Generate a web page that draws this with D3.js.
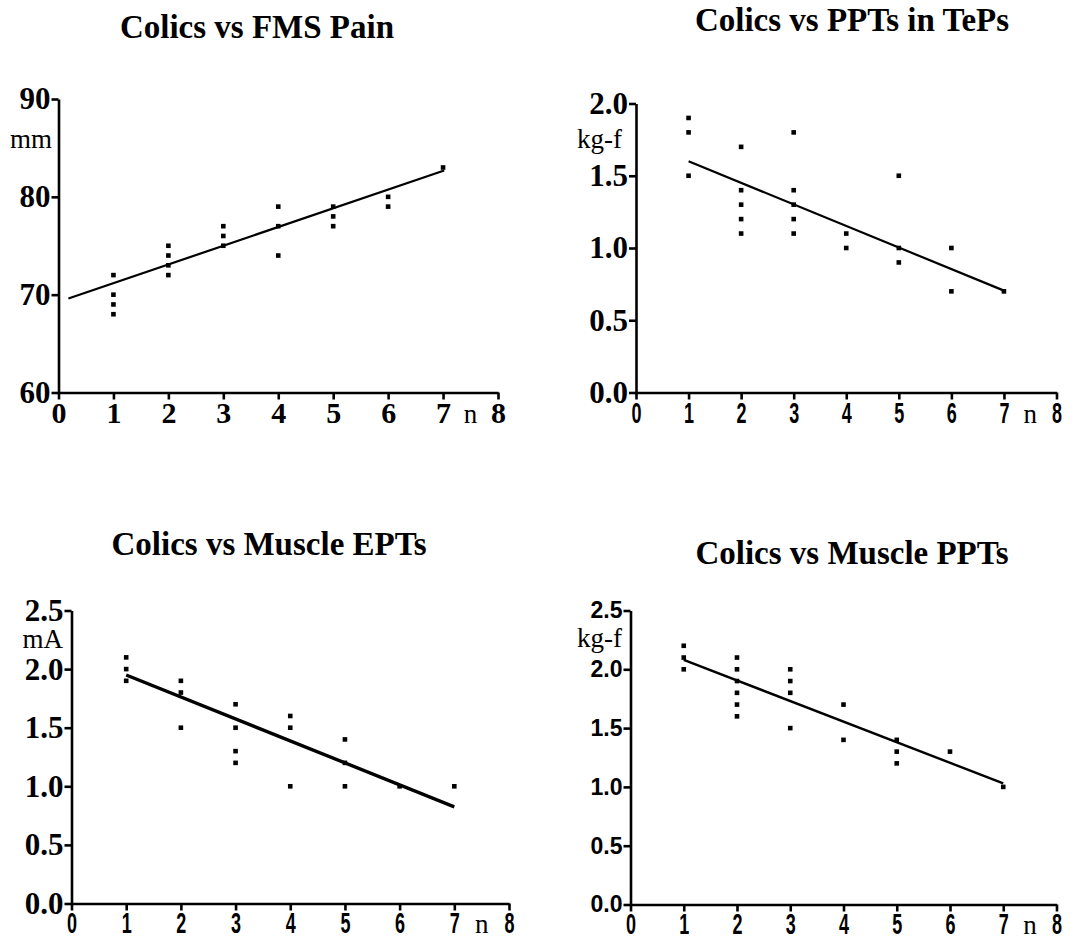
<!DOCTYPE html>
<head>
  <meta charset="utf-8">
  <style>
    body { margin: 0; background: #fff; }
    .title { font-family: "Liberation Serif", "Times New Roman", serif; font-weight: bold; font-size: 33px; }
    .unit { font-family: "Liberation Serif", "Times New Roman", serif; font-size: 27px; }
    .axis path, .axis line { stroke: #000; stroke-width: 2.6px; }
  </style>
  <script src="https://d3js.org/d3.v7.min.js" charset="utf-8"></script>
</head>
<body>
  <script>
    // x ticks shared by all four plots
    var nTicks = [0, 1, 2, 3, 4, 5, 6, 7, 8];

    // Colics vs FMS Pain
    var fmsX = [1, 1, 1, 1, 2, 2, 2, 2, 3, 3, 3, 4, 4, 4, 5, 5, 5, 6, 6, 7];
    var fmsY = [72, 70, 69, 68, 75, 74, 73, 72, 77, 76, 75, 79, 77, 74, 79, 78, 77, 80, 79, 83];
    var fmsFitX = [0.18, 7.02];
    var fmsFitY = [69.6, 82.7];
    var fmsTicks = [60, 70, 80, 90];

    // Colics vs PPTs in TePs
    var tepX = [1, 1, 1, 2, 2, 2, 2, 2, 3, 3, 3, 3, 3, 4, 4, 5, 5, 5, 6, 6, 7];
    var tepY = [1.9, 1.8, 1.5, 1.7, 1.4, 1.3, 1.2, 1.1, 1.8, 1.4, 1.3, 1.2, 1.1, 1.1, 1.0, 1.5, 1.0, 0.9, 1.0, 0.7, 0.7];
    var tepFitX = [1, 7];
    var tepFitY = [1.6, 0.705];
    var tepTicks = [0, 0.5, 1.0, 1.5, 2.0];

    // Colics vs Muscle EPTs
    var eptX = [1, 1, 1, 2, 2, 2, 3, 3, 3, 3, 4, 4, 4, 5, 5, 5, 6, 7];
    var eptY = [2.1, 2.0, 1.9, 1.9, 1.8, 1.5, 1.7, 1.5, 1.3, 1.2, 1.6, 1.5, 1.0, 1.4, 1.2, 1.0, 1.0, 1.0];
    var eptFitX = [1, 7];
    var eptFitY = [1.95, 0.825];
    var eptTicks = [0, 0.5, 1.0, 1.5, 2.0, 2.5];

    // Colics vs Muscle PPTs
    var mppX = [1, 1, 1, 2, 2, 2, 2, 2, 2, 3, 3, 3, 3, 4, 4, 5, 5, 5, 6, 7];
    var mppY = [2.2, 2.1, 2.0, 2.1, 2.0, 1.9, 1.8, 1.7, 1.6, 2.0, 1.9, 1.8, 1.5, 1.7, 1.4, 1.4, 1.3, 1.2, 1.3, 1.0];
    var mppFitX = [1, 7];
    var mppFitY = [2.08, 1.03];
    var mppTicks = [0, 0.5, 1.0, 1.5, 2.0, 2.5];

    var serifB = '"Liberation Serif", "Times New Roman", serif';
    var sansB = '"Liberation Sans", Arial, sans-serif';

    var svg = d3.select("body")
                .append("svg")
                .attr("width", 1079)
                .attr("height", 939);

    function drawPlot(o) {
      var x = d3.scaleLinear().domain([0, 8]).range([o.left, o.right]);
      var y = d3.scaleLinear().domain(o.yDomain).range([o.bottom, o.top]);
      var g = svg.append("g");

      g.append("text")
       .attr("class", "title")
       .attr("x", o.titleX)
       .attr("y", o.titleY)
       .attr("text-anchor", "middle")
       .text(o.title);

      var yAxis = g.append("g")
                   .attr("class", "axis")
                   .attr("transform", "translate(" + o.left + ",0)")
                   .call(d3.axisLeft(y).tickValues(o.yTicks).tickSize(7).tickSizeOuter(0)
                           .tickFormat(o.yFormat));
      yAxis.selectAll("text")
           .attr("x", -8)
           .attr("font-family", o.yFont)
           .attr("font-weight", "bold")
           .attr("font-size", o.yFontSize + "px")
           .attr("fill", "#000");

      var xAxis = g.append("g")
                   .attr("class", "axis")
                   .attr("transform", "translate(0," + o.bottom + ")")
                   .call(d3.axisBottom(x).tickValues(nTicks).tickSize(7).tickSizeOuter(0)
                           .tickFormat(d3.format("d")));
      // sans labels in the source are narrow, so squash them sideways
      xAxis.selectAll("text")
           .attr("y", 0)
           .attr("dy", 0)
           .attr("font-family", o.xFont)
           .attr("font-weight", "bold")
           .attr("font-size", o.xFontSize + "px")
           .attr("fill", "#000")
           .attr("transform", "translate(0," + o.xLabelBase + ") scale(" + o.xSquash + ",1)");

      g.append("text")
       .attr("class", "unit")
       .attr("x", o.unitX)
       .attr("y", o.unitY)
       .attr("text-anchor", "end")
       .attr("font-size", o.unitSize + "px")
       .text(o.unit);

      g.append("text")
       .attr("class", "unit")
       .attr("x", x(7.5))
       .attr("y", o.bottom + o.xLabelBase)
       .attr("text-anchor", "middle")
       .attr("font-size", "28px")
       .text("n");

      g.selectAll("rect.pt")
       .data(o.xs)
       .enter()
       .append("rect")
       .attr("class", "pt")
       .attr("x", function(d) { return x(d) - 2.3; })
       .attr("y", function(d, i) { return y(o.ys[i]) - 2.3; })
       .attr("width", 4.6)
       .attr("height", 4.6)
       .attr("fill", "#000");

      var fit = o.fitX.map(function(d, i) { return [d, o.fitY[i]]; });
      g.append("path")
       .datum(fit)
       .attr("fill", "none")
       .attr("stroke", "#000")
       .attr("stroke-width", o.fitWidth)
       .attr("d", d3.line().x(function(d) { return x(d[0]); }).y(function(d) { return y(d[1]); }));
    }

    drawPlot({
      title: "Colics vs FMS Pain", titleX: 257, titleY: 38,
      left: 58.5, right: 498, top: 99, bottom: 392.5,
      yDomain: [60, 90], yTicks: fmsTicks, yFormat: d3.format("d"),
      yFont: serifB, yFontSize: 31,
      xFont: serifB, xFontSize: 30, xSquash: 1, xLabelBase: 30,
      unit: "mm", unitX: 52, unitY: 148, unitSize: 27,
      xs: fmsX, ys: fmsY, fitX: fmsFitX, fitY: fmsFitY, fitWidth: 2.2
    });

    drawPlot({
      title: "Colics vs PPTs in TePs", titleX: 852, titleY: 31,
      left: 636, right: 1056.5, top: 103.5, bottom: 392.5,
      yDomain: [0, 2], yTicks: tepTicks, yFormat: d3.format(".1f"),
      yFont: serifB, yFontSize: 31,
      xFont: sansB, xFontSize: 30, xSquash: 0.6, xLabelBase: 30,
      unit: "kg-f", unitX: 622, unitY: 148, unitSize: 27,
      xs: tepX, ys: tepY, fitX: tepFitX, fitY: tepFitY, fitWidth: 2.2
    });

    drawPlot({
      title: "Colics vs Muscle EPTs", titleX: 269, titleY: 555,
      left: 71.5, right: 509, top: 610.5, bottom: 903.5,
      yDomain: [0, 2.5], yTicks: eptTicks, yFormat: d3.format(".1f"),
      yFont: serifB, yFontSize: 31,
      xFont: sansB, xFontSize: 30, xSquash: 0.6, xLabelBase: 29,
      unit: "mA", unitX: 63, unitY: 648, unitSize: 25,
      xs: eptX, ys: eptY, fitX: eptFitX, fitY: eptFitY, fitWidth: 3.4
    });

    drawPlot({
      title: "Colics vs Muscle PPTs", titleX: 852, titleY: 564,
      left: 630.5, right: 1056.5, top: 610.5, bottom: 904.5,
      yDomain: [0, 2.5], yTicks: mppTicks, yFormat: d3.format(".1f"),
      yFont: sansB, yFontSize: 23,
      xFont: sansB, xFontSize: 30, xSquash: 0.6, xLabelBase: 29,
      unit: "kg-f", unitX: 622, unitY: 647, unitSize: 27,
      xs: mppX, ys: mppY, fitX: mppFitX, fitY: mppFitY, fitWidth: 2.4
    });
  </script>
</body>
